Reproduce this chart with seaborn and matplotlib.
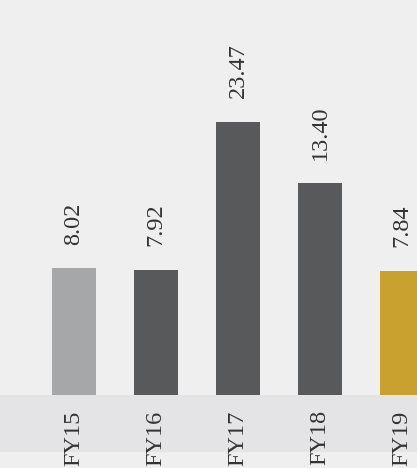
import numpy as np
import pandas as pd
import matplotlib.pyplot as plt
import seaborn as sns
from matplotlib.patches import Rectangle

years = ['FY15', 'FY16', 'FY17', 'FY18', 'FY19']
values = [8.02, 7.92, 23.47, 13.40, 7.84]
bar_colors = ['#a6a7a9', '#58595b', '#58595b', '#58595b', '#c9a12f']

sns.set_style('white')
plt.rcParams['font.family'] = ['Liberation Serif', 'DejaVu Serif']

df = pd.DataFrame({'year': years, 'value': values})

fig = plt.figure(figsize=(4.17, 4.68), dpi=100)
fig.patch.set_facecolor('#efeff0')

# grey band behind the year labels
fig.patches.append(Rectangle((0, 16 / 468), 1, 57 / 468, transform=fig.transFigure,
                             facecolor='#e4e4e6', edgecolor='none', zorder=-1))

ax = fig.add_axes([0, 73 / 468, 1, 395 / 468])
ax.set_zorder(1)
ax.set_facecolor('none')
sns.barplot(data=df, x='year', y='value', hue='year', palette=bar_colors,
            width=0.537, saturation=1, legend=False, linewidth=0, ax=ax)

# the original compresses the tallest bar, like a broken axis above 13.4
cut, k = 13.4, 0.385
def fwd(y):
    y = np.asarray(y, dtype=float)
    return np.where(y <= cut, y, cut + (y - cut) * k)
def inv(y):
    y = np.asarray(y, dtype=float)
    return np.where(y <= cut, y, cut + (y - cut) / k)
ax.set_yscale('function', functions=(fwd, inv))
ax.set_ylim(0, 43.5)
ax.set_xlim(-0.902, 4.183)

for i, v in enumerate(values):
    ax.annotate(f'{v:.2f}', xy=(i, v), xytext=(0, 17), textcoords='offset points',
                rotation=90, ha='center', va='bottom', fontsize=17.5, color='#333333')

ax.set_xticks(range(len(years)))
ax.set_xticklabels(years, rotation=90, fontsize=17.5, color='#333333', va='top')
ax.tick_params(axis='x', length=0, pad=11)
ax.set_yticks([])
ax.set_xlabel('')
ax.set_ylabel('')
sns.despine(ax=ax, left=True, bottom=True)

plt.savefig('out.png', dpi=100, facecolor=fig.get_facecolor())
